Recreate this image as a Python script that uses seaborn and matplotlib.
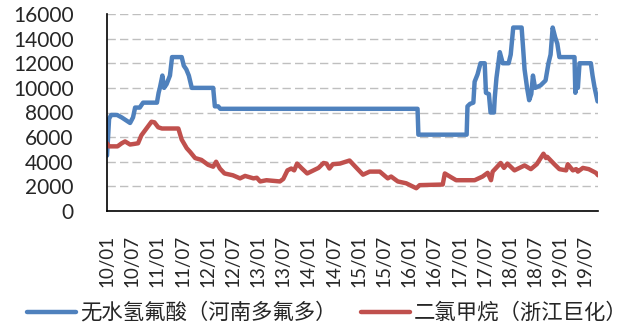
import matplotlib
matplotlib.use("Agg")
import matplotlib.pyplot as plt
import numpy as np
import pandas as pd
import seaborn as sns
from matplotlib.ticker import FixedLocator, MultipleLocator

# months counted from 2010/01
hf_month = [0, 0.5, 1, 2.4, 3.5, 5.5, 6.2, 6.7, 7.8, 8.6, 11.9, 12.3, 12.6, 13.2, 13.6,
            14.2, 15, 15.5, 17.8, 18.3, 18.9, 19.5, 20.2, 25.3, 25.7, 26.5, 27, 74,
            74.2, 85.7, 85.9, 86.5, 87.3, 87.6, 88.3, 89, 90, 90.3, 91, 91.4, 92.2,
            92.4, 92.8, 93.6, 94.3, 95.7, 96.2, 96.8, 98.8, 99.2, 99.5, 100.1, 100.6,
            101.1, 101.5, 102, 103.3, 104.5, 105.2, 105.7, 106.2, 106.8, 107.3, 107.8,
            111.4, 111.6, 112, 112.2, 112.6, 115.3, 115.7, 116.2, 116.9]
hf_value = [4500, 7500, 7800, 7800, 7600, 7150, 7600, 8400, 8400, 8800, 8800, 9600, 10000,
            11000, 10000, 10300, 11000, 12500, 12500, 11800, 11500, 11000, 10000, 10000,
            8500, 8500, 8300, 8300, 6200, 6200, 8500, 8700, 8800, 10500, 11100, 12000,
            12000, 9600, 9500, 8000, 8000, 9200, 10800, 12900, 12000, 12000, 12700, 14900,
            14900, 13000, 11500, 10000, 9000, 9500, 11000, 10000, 10200, 10600, 12000,
            12700, 14900, 14100, 13600, 12500, 12500, 9600, 11000, 10000, 12000, 12000,
            11000, 10000, 8900]

dcm_month = [0, 0.5, 2.5, 3.5, 4.3, 5.5, 6.5, 7.4, 8.2, 9.4, 10.6, 11.3, 12.2, 13.1, 17,
             17.8, 19, 19.8, 21, 22.5, 24.1, 25.3, 26, 26.9, 28, 30, 31.7, 32.9, 34.9,
             35.7, 36.5, 38, 41.2, 42, 43, 43.9, 44.6, 45.3, 46.3, 47.7, 49.2, 50.4, 51.6,
             52.3, 53, 53.8, 55.5, 57.8, 58.9, 61, 62.6, 65, 66.9, 67.7, 69.3, 71.3, 73.7,
             74.5, 80, 80.5, 81.7, 83.2, 87.6, 89.5, 90.7, 91.5, 91.9, 93, 93.8, 94.6,
             95.4, 97.1, 98.3, 99.5, 101, 102.4, 104, 104.6, 104.9, 106.6, 107.8, 109.4,
             109.8, 111, 111.8, 112.2, 113.4, 114.8, 116.5, 117]
dcm_value = [5500, 5250, 5250, 5500, 5650, 5400, 5450, 5500, 6150, 6700, 7250, 7200, 6800,
             6700, 6700, 5800, 5100, 4800, 4300, 4150, 3750, 3600, 4000, 3450, 3050, 2900,
             2650, 2850, 2650, 2700, 2400, 2500, 2400, 2600, 3300, 3450, 3300, 3850, 3500,
             3050, 3300, 3500, 3900, 3850, 3450, 3800, 3850, 4100, 3700, 2950, 3200, 3200,
             2650, 2800, 2400, 2250, 1850, 2100, 2150, 3050, 2800, 2500, 2500, 2800, 3100,
             2500, 3200, 3600, 3900, 3500, 3850, 3300, 3500, 3700, 3400, 3800, 4650, 4300,
             4400, 3800, 3400, 3300, 3800, 3300, 3400, 3200, 3500, 3400, 3100, 2900]

tick_labels = [f"{y:02d}/{m}" for y in range(10, 20) for m in ("01", "07")]
series_names = ["无水氢氟酸（河南多氟多）", "二氯甲烷（浙江巨化）"]
colors = ["#4F81BD", "#C0504D"]

sns.set_style("white")
plt.rcParams['font.family'] = ['Lato', 'Noto Sans CJK SC', 'DejaVu Sans']

fig = plt.figure(figsize=(6.42, 3.28), dpi=100)
ax = fig.add_axes([107 / 642, 1 - 211 / 328, (598 - 107) / 642, (211 - 14) / 328])

sns.lineplot(x=hf_month, y=hf_value, ax=ax, color=colors[0], linewidth=3.2,
             estimator=None, sort=False, label=series_names[0])
sns.lineplot(x=dcm_month, y=dcm_value, ax=ax, color=colors[1], linewidth=3.2,
             estimator=None, sort=False, label=series_names[1])

ax.set_xlim(0, 117)
ax.set_ylim(0, 16000)
ax.yaxis.set_major_locator(MultipleLocator(2000))
ax.xaxis.set_major_locator(FixedLocator(np.arange(0, 115, 6)))
ax.set_xticklabels(tick_labels, rotation=90)
ax.grid(axis='y', color='#BFBFBF', linestyle=(0, (6, 3)), linewidth=1)
ax.grid(axis='x', visible=False)
for side in ("top", "right"):
    ax.spines[side].set_visible(False)
for side in ("left", "bottom"):
    ax.spines[side].set_color("black")
    ax.spines[side].set_linewidth(1.2)
ax.tick_params(axis='x', direction='in', length=5, width=1, color='black',
               labelsize=13.5, pad=17)
ax.tick_params(axis='y', direction='in', length=5, width=1, color='black',
               labelsize=15, pad=24)

ax.get_legend().remove()
handles, labels = ax.get_legend_handles_labels()
fig.legend(handles, labels, loc='center', bbox_to_anchor=(0.51, 1 - 313 / 328), ncol=2,
           frameon=False, handlelength=2.3, handletextpad=0.2, columnspacing=1.1,
           borderaxespad=0, borderpad=0,
           prop={'family': ['Noto Sans CJK SC'], 'size': 15.4})

fig.savefig("out.png", dpi=100)
